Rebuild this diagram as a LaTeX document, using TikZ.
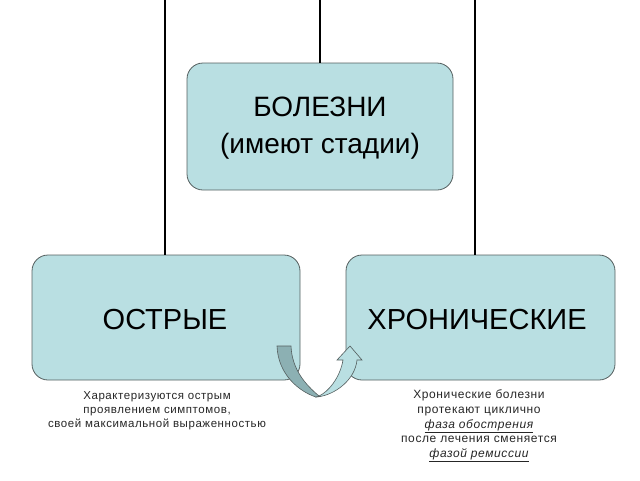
\documentclass[tikz,border=0pt]{standalone}
\usepackage{fontspec}
\setmainfont{Liberation Sans}
\newfontfamily\noteleft[LetterSpace=5]{Liberation Sans}
\definecolor{boxfill}{RGB}{185,223,226}
\definecolor{boxline}{RGB}{85,95,95}
\definecolor{darkband}{RGB}{140,176,179}
\begin{document}
\begin{tikzpicture}[x=1pt,y=-1pt,
  bigbox/.style={draw=boxline,line width=0.8pt,fill=boxfill,rounded corners=16pt,inner sep=0pt},
  conn/.style={draw=black,line width=1.4pt},
  note/.style={align=center,text=black!85}]
\useasboundingbox (0,0) rectangle (640,480);
% boxes
\node[bigbox,minimum width=266pt,minimum height=127pt] (root) at (320,126.5) {};
\node[font=\fontsize{28}{37}\selectfont,align=center] (roottxt) at (320,128) {БОЛЕЗНИ\\(имеют стадии)};
\coordinate (topmid) at (320,0);
\coordinate (topl) at (165,0);
\coordinate (topr) at (475,0);
\node[bigbox,minimum width=268pt,minimum height=125pt] (acute) at (166,317.5) {};
\node[bigbox,minimum width=269pt,minimum height=125pt] (chronic) at (480.5,317.5) {};
\node[font=\fontsize{29}{34}\selectfont] (acutetxt) at (165,320) {ОСТРЫЕ};
\node[font=\fontsize{29}{34}\selectfont] (chronictxt) at (477,320) {ХРОНИЧЕСКИЕ};
\draw[conn] (topmid) -- (root.north);
\draw[conn] (topl) -- (topl |- acute.north);
\draw[conn] (topr) -- (topr |- chronic.north);
% U-turn arrow
\filldraw[fill=darkband,draw=boxline,line width=0.6pt]
  (277,346) .. controls (278,375) and (300,392) .. (316,397)
  -- (319,396) .. controls (306,385) and (292,370) .. (291,346) -- cycle;
\filldraw[fill=boxfill,draw=boxline,line width=0.6pt]
  (317,397) .. controls (335,395) and (355,380) .. (357,360)
  -- (362,360) -- (350,346) -- (337,360) -- (343,360)
  .. controls (340,378) and (328,392) .. (319,396) -- cycle;
% notes
\node[note,font=\noteleft\fontsize{11.5}{14.2}\selectfont] (acutenote) at (157,411) {Характеризуются острым\\проявлением симптомов,\\своей максимальной выраженностью};
\node[note,font=\noteleft\fontsize{12}{14.6}\selectfont] (chronicnote) at (479,426) {Хронические болезни\\протекают циклично\\\underline{\itshape фаза обострения}\\после лечения сменяется\\\underline{\itshape фазой ремиссии}};
\end{tikzpicture}
\end{document}
